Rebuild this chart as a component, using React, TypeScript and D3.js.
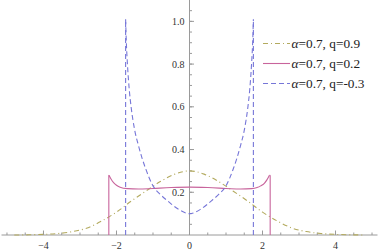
import React from "react";
import * as d3 from "d3";

// q = 0.9 (dot-dash)
const q09X = [-4.8, -4.4, -4.0, -3.6, -3.2, -2.8, -2.4, -2.0, -1.6, -1.2, -0.8, -0.4, 0, 0.4, 0.8, 1.2, 1.6, 2.0, 2.4, 2.8, 3.2, 3.6, 4.0, 4.4, 4.8];
const q09Y = [0.0, 0.001, 0.003, 0.007, 0.016, 0.033, 0.066, 0.107, 0.158, 0.205, 0.25, 0.285, 0.3, 0.285, 0.25, 0.205, 0.158, 0.107, 0.066, 0.033, 0.016, 0.007, 0.003, 0.001, 0.0];

// q = 0.2 (solid), support edges at +-2.21
const q02X = [-2.205, -2.15, -2.08, -2.0, -1.9, -1.7, -1.4, -1.0, -0.5, 0, 0.5, 1.0, 1.4, 1.7, 1.85, 1.95, 2.05, 2.12, 2.19];
const q02Y = [0.28, 0.262, 0.245, 0.233, 0.224, 0.217, 0.215, 0.218, 0.222, 0.224, 0.222, 0.218, 0.215, 0.217, 0.222, 0.23, 0.242, 0.258, 0.28];
const q02Edges = [-2.21, 2.21];

// q = -0.3 (dashed), support edges at +-1.75
const qm03X = [-1.75, -1.73, -1.7, -1.65, -1.6, -1.5, -1.4, -1.3, -1.2, -1.0, -0.8, -0.6, -0.3, 0, 0.3, 0.6, 0.8, 1.0, 1.2, 1.3, 1.4, 1.5, 1.6, 1.65, 1.7, 1.73, 1.75];
const qm03Y = [1.01, 0.9, 0.8, 0.68, 0.6, 0.49, 0.42, 0.36, 0.31, 0.23, 0.19, 0.16, 0.12, 0.1, 0.12, 0.16, 0.19, 0.23, 0.31, 0.36, 0.42, 0.49, 0.6, 0.68, 0.8, 0.9, 1.01];
const qm03Edges = [-1.75, 1.75];

const xLabels = [-4, -2, 0, 2, 4];
const yLabels = [0.2, 0.4, 0.6, 0.8, 1.0];
const legendLabels = ["q=0.9", "q=0.2", "q=-0.3"];

const W = 382;
const H = 250;

const colors = ["#b3aa5e", "#c8649c", "#7676d8"];
const dashes = ["5,3,1,3", "none", "5,3"];

export default function App() {
  const x = d3.scaleLinear().domain([-5.15, 5.15]).range([1.5, 377.5]);
  const y = d3.scaleLinear().domain([0, 1.1]).range([235, 0]);

  const line = d3
    .line<[number, number]>()
    .x((d) => x(d[0]))
    .y((d) => y(d[1]))
    .curve(d3.curveMonotoneX);

  const series = [
    { xs: q09X, ys: q09Y, edges: [] as number[] },
    { xs: q02X, ys: q02Y, edges: q02Edges },
    { xs: qm03X, ys: qm03Y, edges: qm03Edges },
  ];

  const minorX = d3.range(-5, 5.01, 0.5);
  const minorY = d3.range(0.05, 1.1, 0.05);
  const font = "'Liberation Serif', 'DejaVu Serif', serif";

  return (
    <svg
      width={W}
      height={H}
      style={{ position: "absolute", left: 0, top: 0, background: "white" }}
    >
      {/* axes */}
      <g stroke="#9a9a9a" strokeWidth={1}>
        <line x1={x.range()[0]} x2={x.range()[1]} y1={y(0)} y2={y(0)} />
        <line x1={x(0)} x2={x(0)} y1={y(0)} y2={y(1.1)} />
        {minorX.map((v) => (
          <line key={"mx" + v} x1={x(v)} x2={x(v)} y1={y(0)} y2={y(0) - 2.5} />
        ))}
        {xLabels.map((v) => (
          <line key={"Mx" + v} x1={x(v)} x2={x(v)} y1={y(0)} y2={y(0) - 4.5} />
        ))}
        {minorY.map((v) => (
          <line key={"my" + v} x1={x(0)} x2={x(0) + 2.5} y1={y(v)} y2={y(v)} />
        ))}
        {yLabels.map((v) => (
          <line key={"My" + v} x1={x(0)} x2={x(0) + 4.5} y1={y(v)} y2={y(v)} />
        ))}
      </g>
      <g fontFamily={font} fontSize={10} fill="#333">
        {xLabels.map((v) => (
          <text key={"lx" + v} x={x(v)} y={y(0) + 13.5} textAnchor="middle">
            {v < 0 ? "\u2212" + Math.abs(v) : String(v)}
          </text>
        ))}
        {yLabels.map((v) => (
          <text key={"ly" + v} x={x(0) - 5} y={y(v) + 3.5} textAnchor="end">
            {v.toFixed(1)}
          </text>
        ))}
      </g>

      {/* curves */}
      {series.map((s, i) => {
        const pts = s.xs.map((v, j) => [v, s.ys[j]] as [number, number]);
        return (
          <g key={i} stroke={colors[i]} strokeWidth={1.1} fill="none" strokeDasharray={dashes[i]}>
            <path d={line(pts) || ""} />
            {s.edges.map((e, k) => {
              const top = k === 0 ? pts[0] : pts[pts.length - 1];
              return <line key={k} x1={x(e)} x2={x(e)} y1={y(0)} y2={y(top[1])} />;
            })}
            {s.edges.map((e, k) => {
              const top = k === 0 ? pts[0] : pts[pts.length - 1];
              return <line key={"c" + k} x1={x(e)} x2={x(top[0])} y1={y(top[1])} y2={y(top[1])} />;
            })}
          </g>
        );
      })}

      {/* legend */}
      <g fontFamily={font} fontSize={13.3} fill="#222">
        {legendLabels.map((l, i) => (
          <g key={l} transform={`translate(0,${43.5 + i * 20})`}>
            <line
              x1={263}
              x2={290}
              y1={0}
              y2={0}
              stroke={colors[i]}
              strokeWidth={1.1}
              strokeDasharray={dashes[i]}
            />
            <text x={291.5} y={4.5}>
              <tspan fontStyle="italic">α</tspan>=0.7, {l}
            </text>
          </g>
        ))}
      </g>
    </svg>
  );
}
